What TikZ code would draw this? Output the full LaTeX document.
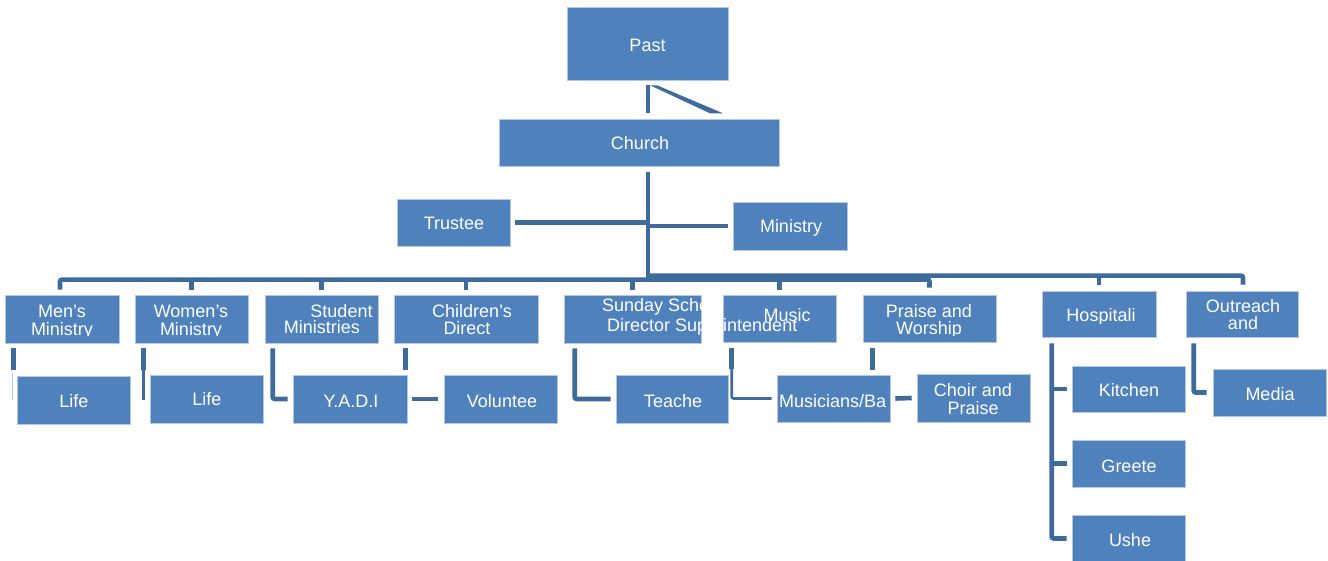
\documentclass[tikz,border=0pt]{standalone}
\usepackage{fontspec}
\setmainfont{Liberation Sans}
\definecolor{boxblue}{HTML}{4F81BD}
\definecolor{boxedge}{HTML}{B4C8E2}
\definecolor{linkblue}{HTML}{3F6A9C}
\begin{document}
\begin{tikzpicture}[x=1pt,y=1pt,
  box/.style 2 args={draw=boxedge, line width=0.6pt, fill=boxblue,
    minimum width=#1pt, minimum height=#2pt, inner sep=0pt},
  lbl/.style={text=white, font=\fontsize{18pt}{17pt}\selectfont,
    inner sep=0pt, anchor=base},
  conn/.style={draw=linkblue, line width=4.6pt, rounded corners=2pt},
  thinconn/.style={draw=linkblue, line width=2.6pt, rounded corners=2pt},
  faint/.style={draw=boxedge, line width=0.8pt}]
\useasboundingbox (0,0) rectangle (1328,560);

% ---- boxes ----
\node[box={161}{73}] (past) at (647.5,516.5) {};
\node[box={280}{47}] (church) at (639,417.5) {};
\node[box={113}{47}] (trustee) at (453.5,337.5) {};
\node[box={114}{48}] (ministry) at (790,334) {};
\node[box={114}{48}] (men) at (62,241) {};
\node[box={113}{48}] (women) at (191.5,241) {};
\node[box={113}{48}] (student) at (321.5,241) {};
\node[box={144}{48}] (children) at (466,241) {};
\node[box={137}{48}] (sunday) at (632.5,241) {};
\node[box={113}{47}] (music) at (779.5,241.5) {};
\node[box={133}{47}] (praise) at (929.5,241.5) {};
\node[box={114}{46}] (hosp) at (1099,246) {};
\node[box={112}{46}] (outreach) at (1242,246) {};
\node[box={113}{48}] (lifea) at (73.5,160) {};
\node[box={113}{48}] (lifeb) at (206.5,161) {};
\node[box={114}{48}] (yadi) at (350,161) {};
\node[box={113}{48}] (volunteer) at (500.5,161) {};
\node[box={112}{48}] (teacher) at (672,161) {};
\node[box={113}{47}] (musicians) at (833.5,161.5) {};
\node[box={113}{48}] (choir) at (973.5,162) {};
\node[box={113}{46}] (kitchen) at (1128.5,171) {};
\node[box={113}{47}] (greeter) at (1128.5,96.5) {};
\node[box={113}{47}] (usher) at (1128.5,21.5) {};
\node[box={113}{47}] (media) at (1269.5,167.5) {};

% ---- connectors: top levels ----
\draw[conn] ([xshift=.5pt,yshift=-5pt]past.south) -- ++(0,-28);
\fill[linkblue] ([xshift=2.5pt,yshift=-5pt]past.south) -- ++(7,0) -- ++(66,-28) -- ++(-13,0) -- cycle;
\draw[conn] ([xshift=9pt,yshift=-6pt]church.south) -- ++(0,-106);
\draw[conn] ([xshift=5pt]trustee.east) -- ++(133,0);
\draw[conn] ([xshift=-5pt]ministry.west) -- ++(-80,0);

% ---- bus to the second row ----
\draw[conn] ([xshift=-2pt,yshift=5pt]men.north) |- ([yshift=15pt]praise.north) -- ([yshift=7pt]praise.north);
\foreach \n in {women,student,children,sunday,music}
  \draw[conn] ([yshift=5pt]\n.north) -- ++(0,10);
\draw[conn] (outreach.north) ++(1,6) |- ++(-595,9);
\draw[conn] ([yshift=6pt]hosp.north) -- ++(0,9);

% ---- connectors to the third row ----
\draw[conn] ([xshift=9pt,yshift=-5pt]men.south west) -- ++(0,-22);
\draw[faint] ([xshift=8pt,yshift=-30pt]men.south west) -- ++(0,-27);
\draw[conn] ([xshift=9pt,yshift=-5pt]women.south west) -- ++(0,-22);
\draw[thinconn] ([xshift=9pt,yshift=-26pt]women.south west) -- ++(0,-31);
\draw[conn] ([xshift=8pt,yshift=-5pt]student.south west) |- ([xshift=-5pt]yadi.west);
\draw[conn] ([xshift=12pt,yshift=-5pt]children.south west) -- ++(0,-22);
\draw[conn] ([xshift=5pt]yadi.east) -- ([xshift=-6pt]volunteer.west);
\draw[conn] ([xshift=11pt,yshift=-5pt]sunday.south west) |- ([xshift=-5pt]teacher.west);
\draw[conn] ([xshift=9pt,yshift=-6pt]music.south west) -- ++(0,-21);
\draw[thinconn] ([xshift=9pt,yshift=-26pt]music.south west) |- ([xshift=-5pt]musicians.west);
\draw[conn] ([xshift=10pt,yshift=-6pt]praise.south west) -- ++(0,-22);
\draw[conn] ([xshift=5pt]musicians.east) -- ([xshift=-5pt]choir.west);
\draw[conn] ([xshift=10pt,yshift=-6pt]hosp.south west) |- ([xshift=-5pt]usher.west);
\draw[conn] ([xshift=-5pt]kitchen.west) -- ++(-15,0);
\draw[conn] ([xshift=-5pt]greeter.west) -- ++(-15,0);
\draw[conn] ([xshift=8pt,yshift=-6pt]outreach.south west) |- ([xshift=-6pt]media.west);

% ---- texts ----
\node[lbl] (t-past) at (647.5,508) {Past};
\node[lbl] (t-church) at (640,410) {Church};
\node[lbl] (t-trustee) at (454,330) {Trustee};
\begin{scope}
  \clip (ministry.north west) rectangle ([yshift=15pt]ministry.south east);
  \node[lbl] (t-ministry) at (791,327) {Ministry};
\end{scope}
\begin{scope}
  \clip (men.north west) rectangle ([yshift=8pt]men.south east);
  \node[lbl] (t-men1) at (62,242) {Men’s};
  \node[lbl] (t-men2) at (62,224.3) {Ministry};
\end{scope}
\begin{scope}
  \clip (women.north west) rectangle ([yshift=8pt]women.south east);
  \node[lbl] (t-women1) at (191,242) {Women’s};
  \node[lbl] (t-women2) at (191,224.3) {Ministry};
\end{scope}
\node[lbl] (t-student1) at (341.5,242) {Student};
\node[lbl] (t-student2) at (322,226) {Ministries};
\node[lbl] (t-children1) at (472,242) {Children’s};
\node[lbl] (t-children2) at (467,225) {Direct};
% the Sunday School text runs on into the Music box
\begin{scope}
  \clip ([yshift=-4pt]sunday.north west) rectangle (music.south east);
  \node[lbl, anchor=base west] (t-sunday1) at (602,248.3) {Sunday School};
  \node[lbl, anchor=base west] (t-sunday2) at (607,228) {Director Superintendent};
\end{scope}
\node[lbl] (t-music) at (787,238) {Music};
\begin{scope}
  \clip (praise.north west) rectangle ([yshift=7pt]praise.south east);
  \node[lbl] (t-praise1) at (929,242) {Praise and};
  \node[lbl] (t-praise2) at (929,225) {Worship};
\end{scope}
\begin{scope}
  \clip (hosp.north west) rectangle ([yshift=13.7pt]hosp.south east);
  \node[lbl] (t-hosp) at (1101,238.3) {Hospitali};
\end{scope}
\node[lbl] (t-outreach1) at (1243,247) {Outreach};
\node[lbl] (t-outreach2) at (1243,230) {and};
\node[lbl] (t-lifea) at (74,153) {Life};
\node[lbl] (t-lifeb) at (207,154) {Life};
\node[lbl] (t-yadi) at (351,153) {Y.A.D.I};
\node[lbl] (t-volunteer) at (502,153) {Voluntee};
\node[lbl] (t-teacher) at (673,153) {Teache};
\begin{scope}
  \clip (musicians.north west) rectangle (musicians.south east);
  \node[lbl, anchor=base west] (t-musicians) at (779,153) {Musicians/Ba};
\end{scope}
\node[lbl] (t-choir1) at (973,163) {Choir and};
\node[lbl] (t-choir2) at (973,146) {Praise};
\node[lbl] (t-kitchen) at (1129,163) {Kitchen};
\node[lbl] (t-greeter) at (1129,88) {Greete};
\node[lbl] (t-usher) at (1130,14) {Ushe};
\node[lbl] (t-media) at (1270,159) {Media};
\end{tikzpicture}
\end{document}
